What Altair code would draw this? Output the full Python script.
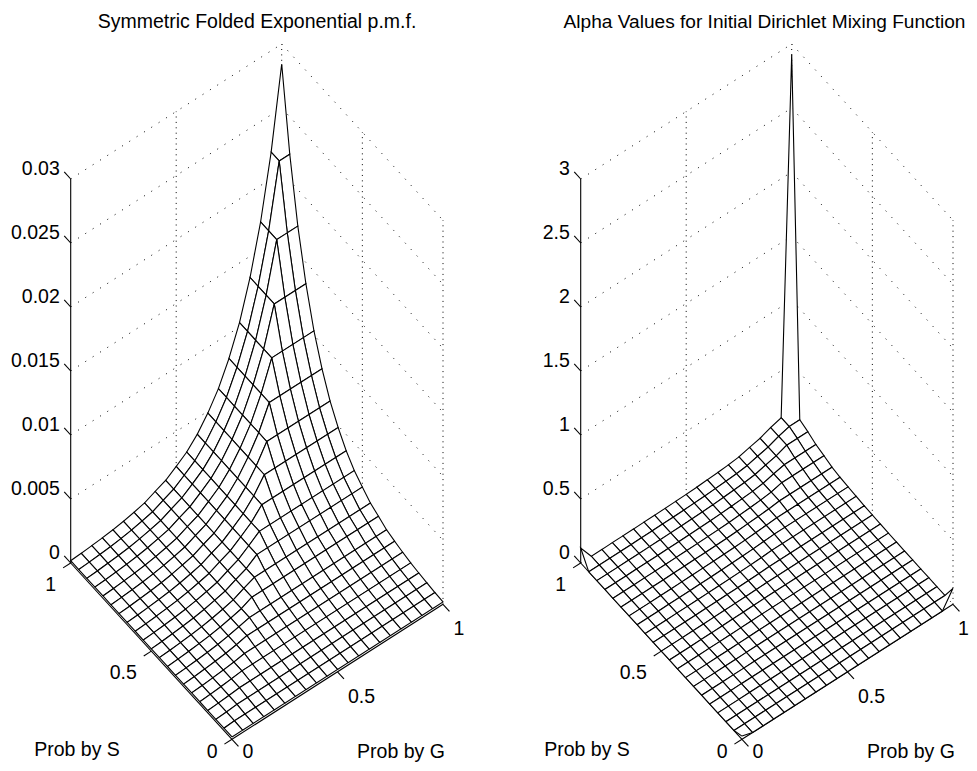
import altair as alt
import pandas as pd

# Surface heights by ring: index = min(S step, G step), 0..20
pmf_ring = [.00018, .00023, .00030, .00038, .00048, .00062, .00080, .00100, .00137, .00171,
            .00227, .00287, .00373, .00486, .00624, .00807, .01034, .01334, .01715, .02208, .02844]
alpha_ring = [0, 0, 0, .001, .001, .002, .003, .004, .005, .007,
              .009, .012, .017, .022, .028, .038, .059, .078, .109, .133, 2.92]
# Alpha corners that stand off the ring value: (S step, G step, value)
alpha_corners = [(20, 0, .117), (0, 20, .125), (0, 0, .025)]

pmf_ticks = [0, .005, .01, .015, .02, .025, .03]
pmf_labels = ["0", "0.005", "0.01", "0.015", "0.02", "0.025", "0.03"]
alpha_ticks = [0, .5, 1, 1.5, 2, 2.5, 3]
alpha_labels = ["0", "0.5", "1", "1.5", "2", "2.5", "3"]
prob_ticks = [0, .5, 1]
prob_labels = ["0", "0.5", "1"]
titles = ["Symmetric Folded Exponential p.m.f.", "Alpha Values for Initial Dirichlet Mixing Function"]
STEPS = 20
FONT = "Liberation Sans"
FS = 19.5
BOTTOM = 751.5   # lowest text centre that stays inside the drawing
RIGHT = 968      # last text column that stays inside the drawing


def panel(ox, ring, corners, ticks, labels, zmax, title, pid, title_fs, title_x):
    def P(s, g, z=0):
        return (ox + 232 - 161.3 * s + 211 * g,
                739.3 - 176.3 * s - 135 * g - 384 * z / zmax)

    def Zv(i, j):
        for a, b, v in corners:
            if a == i and b == j:
                return v
        return ring[min(i, j)]

    grid, vert, axes, mesh, text = [], [], [], [], []

    def seg(rows, key, a, b):
        rows.append(dict(x=a[0], y=a[1], k=key, o=0))
        rows.append(dict(x=b[0], y=b[1], k=key, o=1))

    def label(x, y, t, a, fs=FS):
        text.append(dict(x=x, y=y, t=t, a=a, fs=fs))

    for n, z in enumerate(ticks):
        seg(grid, f"{pid}l{n}", P(1, 0, z), P(1, 1, z))
        seg(grid, f"{pid}r{n}", P(1, 1, z), P(0, 1, z))
        seg(axes, f"{pid}zt{n}", P(1, 0, z), P(1.04, 0, z))
        x, y = P(1.04, 0, z)
        label(x - 4.5, y - 2.8, labels[n], "right")
    for n, (s, g) in enumerate([(1, .5), (1, 1), (.5, 1), (0, 1)]):
        seg(vert, f"{pid}v{n}", P(s, g, 0), P(s, g, zmax))
    seg(axes, f"{pid}z", P(1, 0, 0), P(1, 0, zmax))
    seg(axes, f"{pid}s", P(1, 0, 0), P(0, 0, 0))
    seg(axes, f"{pid}g", P(0, 0, 0), P(0, 1, 0))
    for n, v in enumerate(prob_ticks):
        seg(axes, f"{pid}st{n}", P(v, 0), P(v, -.036))
        seg(axes, f"{pid}gt{n}", P(0, v), P(-.04, v))
        x, y = P(v, 0)
        label(x - 14.5, min(y + 22, BOTTOM), prob_labels[n], "right")
        x, y = P(0, v)
        label(min(x + 10.5, RIGHT - 10), min(y + 25, BOTTOM), prob_labels[n], "left")
    ax, ay = P(0, 0)
    label(ax - 155, ay + 10.7, "Prob by S", "center")
    label(ax + 169, min(ay + 20.7, BOTTOM), "Prob by G", "center")
    label(title_x, 22, title, "center", title_fs)

    quads = sorted(((i, j) for i in range(STEPS) for j in range(STEPS)), key=lambda q: -(q[0] + q[1]))
    for q, (i, j) in enumerate(quads):
        corners4 = [(i, j), (i + 1, j), (i + 1, j + 1), (i, j + 1), (i, j)]
        for o, (a, b) in enumerate(corners4):
            x, y = P(a / STEPS, b / STEPS, Zv(a, b))
            mesh.append(dict(x=x, y=y, k=f"{pid}q{q:03d}", o=o))
    return grid, vert, axes, mesh, text


parts = [panel(0, pmf_ring, [], pmf_ticks, pmf_labels, .03, titles[0], "a", FS, 257),
         panel(510, alpha_ring, alpha_corners, alpha_ticks, alpha_labels, 3, titles[1], "b", 19.1, 764.5)]
grid = pd.DataFrame(parts[0][0] + parts[1][0])
vert = pd.DataFrame(parts[0][1] + parts[1][1])
axes = pd.DataFrame(parts[0][2] + parts[1][2])
mesh = pd.DataFrame(parts[0][3] + parts[1][3])
text = pd.DataFrame(parts[0][4] + parts[1][4])

X = alt.X("x:Q", scale=alt.Scale(domain=[8, 969]), axis=None)
Y = alt.Y("y:Q", scale=alt.Scale(domain=[763, 8]), axis=None)


def lines(df, **mk):
    return alt.Chart(df).mark_line(**mk).encode(x=X, y=Y, detail="k:N", order="o:Q")


layers = [
    lines(grid, color="#000000", strokeWidth=1, strokeDash=[1, 7.7], strokeCap="butt"),
    lines(vert, color="#000000", strokeWidth=1, strokeDash=[1, 4.4], strokeCap="butt"),
    lines(axes, color="#000000", strokeWidth=1.1),
    lines(mesh, stroke="#000000", fill="#ffffff", strokeWidth=1.1, strokeJoin="miter"),
]
for a in ["left", "right", "center"]:
    layers.append(
        alt.Chart(text[text.a == a]).mark_text(font=FONT, align=a, baseline="middle", color="#000000")
        .encode(x=X, y=Y, text="t:N", size=alt.Size("fs:Q", scale=None))
    )

chart = alt.layer(*layers).properties(
    width=961, height=755, padding=0, autosize=alt.AutoSizeParams(type="none")
).configure_view(stroke=None)
chart.save("out.html", embed_options={"renderer": "svg", "actions": False})
